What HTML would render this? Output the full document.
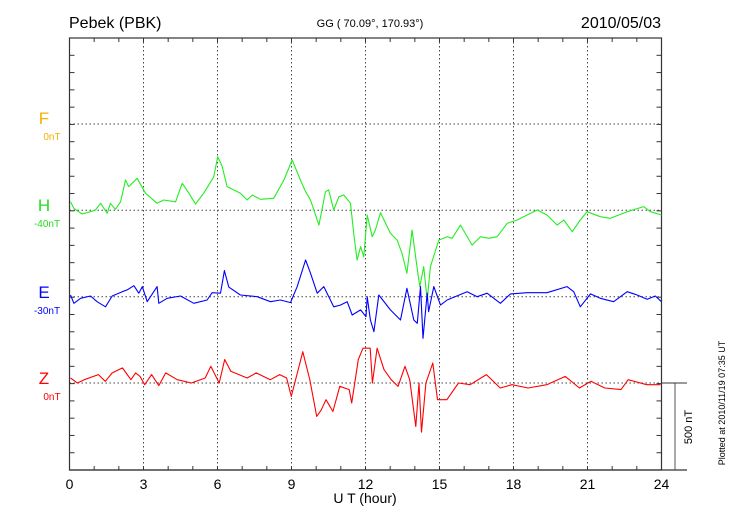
<!DOCTYPE html>
<html><head><meta charset="utf-8"><style>
body{margin:0;background:#fff;}
svg{display:block;font-family:"Liberation Sans",sans-serif;}
</style></head><body>
<svg id="chart" width="730" height="520" viewBox="0 0 730 520" xmlns="http://www.w3.org/2000/svg">
<rect width="730" height="520" fill="#fff"/>
<text x="69" y="28" font-size="16">Pebek (PBK)</text>
<text x="370" y="27" font-size="11" text-anchor="middle">GG ( 70.09°, 170.93°)</text>
<text x="661" y="28" font-size="16" text-anchor="end">2010/05/03</text>
<g id="grid"></g>
<g id="axes"></g>
<g id="series"></g>
<text x="44" y="124" font-size="17" fill="#f5b000" text-anchor="middle">F</text>
<text x="52" y="140" font-size="10" fill="#f5b000" text-anchor="middle">0nT</text>
<text x="44" y="211" font-size="17" fill="#22dd22" text-anchor="middle">H</text>
<text x="47" y="227" font-size="10" fill="#22dd22" text-anchor="middle">-40nT</text>
<text x="44" y="298" font-size="17" fill="#0000ff" text-anchor="middle">E</text>
<text x="47" y="314" font-size="10" fill="#0000ff" text-anchor="middle">-30nT</text>
<text x="44" y="384" font-size="17" fill="#ff0000" text-anchor="middle">Z</text>
<text x="52" y="400" font-size="10" fill="#ff0000" text-anchor="middle">0nT</text>
<text x="365" y="503" font-size="14" text-anchor="middle">U T (hour)</text>
<line x1="675" y1="383" x2="675" y2="470" stroke="#555" stroke-width="1"/>
<line x1="661" y1="383" x2="687" y2="383" stroke="#333" stroke-width="1"/>
<text transform="translate(692,427) rotate(-90)" font-size="11" text-anchor="middle">500 nT</text>
<text transform="translate(725,403) rotate(-90)" font-size="9" text-anchor="middle">Plotted at 2010/11/19 07:35 UT</text>
</svg>
<script>
const xTickLabels = ["0","3","6","9","12","15","18","21","24"];
const hHours = [0.04,0.18,0.51,0.85,1.05,1.26,1.53,1.66,1.86,2.07,2.27,2.40,2.74,3.08,3.55,3.82,4.30,4.57,4.84,5.11,5.44,5.85,6.01,6.19,6.39,6.93,7.20,7.41,7.74,8.28,8.69,9.03,9.36,9.57,9.77,10.11,10.38,10.51,10.71,10.92,11.12,11.39,11.52,11.66,11.80,11.93,12.07,12.27,12.40,12.61,13.01,13.28,13.48,13.68,13.89,14.03,14.20,14.36,14.50,14.63,14.97,15.31,15.51,15.85,16.32,16.66,17.00,17.34,17.74,18.15,18.55,18.96,19.36,19.77,20.04,20.38,20.71,20.98,21.52,21.93,22.61,23.28,23.55,24.0];
const hValues = [49,11,-21,-8,2,40,-17,40,6,49,174,136,184,98,40,59,49,155,98,36,98,193,308,251,136,98,59,88,63,69,174,289,174,107,59,-85,107,117,2,78,88,40,-132,-286,-209,-267,-27,-152,-113,-14,-132,-171,-247,-362,-113,-267,-439,-324,-516,-324,-171,-152,-161,-85,-200,-152,-161,-152,-75,-56,-27,2,-27,-85,-56,-123,-56,-8,-37,-46,-8,21,-8,-27];
const eHours = [0.04,0.18,0.45,0.85,1.12,1.46,1.73,2.14,2.34,2.61,2.81,2.95,3.15,3.55,3.62,3.96,4.50,5.04,5.58,5.78,6.12,6.28,6.46,6.93,7.61,8.15,8.55,8.96,9.23,9.57,9.77,10.04,10.31,10.71,10.98,11.26,11.46,11.80,12.02,12.07,12.20,12.34,12.54,13.01,13.42,13.68,13.96,14.10,14.23,14.33,14.50,14.56,14.77,15.04,15.31,16.12,16.53,16.93,17.47,17.88,18.55,19.36,20.17,20.44,20.71,21.12,21.52,22.06,22.61,23.01,23.42,23.75,24.0];
const eValues = [10,-38,-9,4,-29,-58,4,29,39,63,20,58,-29,58,-38,-9,4,-38,-19,23,20,150,55,10,0,-29,-19,-34,58,211,135,20,58,-58,-48,-29,-105,-76,-115,0,-134,-201,10,-76,-134,48,-134,-153,58,-239,20,-86,58,-48,-19,29,0,20,-38,16,23,23,58,29,-58,16,-9,-29,29,10,-15,4,-29];
const zHours = [0.04,0.32,0.60,1.17,1.45,1.73,2.15,2.49,2.68,2.86,3.05,3.33,3.62,3.90,4.37,4.94,5.50,5.73,6.07,6.29,6.54,7.20,7.57,8.14,8.52,8.80,8.99,9.46,9.74,10.02,10.21,10.40,10.68,10.96,11.34,11.44,11.71,11.90,12.19,12.28,12.47,12.75,13.04,13.32,13.60,13.79,14.04,14.17,14.27,14.45,14.73,14.92,15.30,15.77,16.24,16.90,17.46,17.94,18.59,19.35,20.10,20.67,21.14,21.70,22.36,22.65,23.40,23.96];
const zValues = [29,0,19,48,10,58,87,19,58,38,-10,48,-15,58,19,0,29,96,0,135,67,29,58,19,48,29,-77,180,19,-192,-154,-96,-164,-19,-38,-115,135,200,200,0,200,77,19,-19,96,19,-250,0,-282,0,115,-96,-96,0,-10,48,-29,-10,-29,-10,38,-29,10,-29,-38,19,-10,-10];

const NS="http://www.w3.org/2000/svg";
const L=69.5,R=661.5,T=38,B=470;
const pxPerNT=87/500;
const baseF=124,baseH=210.3,baseE=296.7,baseZ=383;
function xScale(h){return L+(h/24)*(R-L);}
function yScale(v,base){return base-v*pxPerNT;}
function mk(tag,attrs,parent){const e=document.createElementNS(NS,tag);for(const k in attrs)e.setAttribute(k,attrs[k]);parent.appendChild(e);return e;}
const grid=document.getElementById('grid'),axes=document.getElementById('axes'),series=document.getElementById('series');
for(let i=1;i<8;i++){const x=xScale(i*3);
 const g=mk('line',{x1:x,y1:T,x2:x,y2:B,stroke:'#444','stroke-width':1,'stroke-dasharray':'1.5,2.5'},grid);
 
 }
[baseF,baseH,baseE,baseZ].forEach(y=>{
 const g=mk('line',{x1:L,y1:y,x2:R,y2:y,stroke:'#444','stroke-width':1,'stroke-dasharray':'1.5,2.5'},grid);
 
 });
const frame=mk('rect',{x:L,y:T,width:R-L,height:B-T,fill:'none',stroke:'#333','stroke-width':1.2},axes);


mk('line',{x1:L,y1:B,x2:687,y2:B,stroke:'#333','stroke-width':1.2},axes);
for(let h=0;h<=24;h++){const x=xScale(h);
 mk('line',{x1:x,y1:T,x2:x,y2:T+4,stroke:'#333'},axes);
 mk('line',{x1:x,y1:B,x2:x,y2:B-4,stroke:'#333'},axes);}
for(let y=T+17.3;y<B-2;y+=17.28){
 mk('line',{x1:L,y1:y,x2:L+5,y2:y,stroke:'#333'},axes);
 mk('line',{x1:R,y1:y,x2:R-5,y2:y,stroke:'#333'},axes);}
xTickLabels.forEach((t,i)=>{const tx=mk('text',{x:xScale(i*3),y:489,'font-size':14,'text-anchor':'middle'},axes);tx.textContent=t;
 
 });
function line(hours,vals,base,color,name){
 const d=hours.map((h,i)=>(i?'L':'M')+xScale(h).toFixed(1)+','+yScale(vals[i],base).toFixed(1)).join('');
 const p=mk('path',{d:d,fill:'none',stroke:color,'stroke-width':1.1,'stroke-linejoin':'round'},series);
 
 }
line(hHours,hValues,baseH,'#22ee22','series-h');
line(eHours,eValues,baseE,'#0000ff','series-e');
line(zHours,zValues,baseZ,'#ff0000','series-z');
</script>
</body></html>
